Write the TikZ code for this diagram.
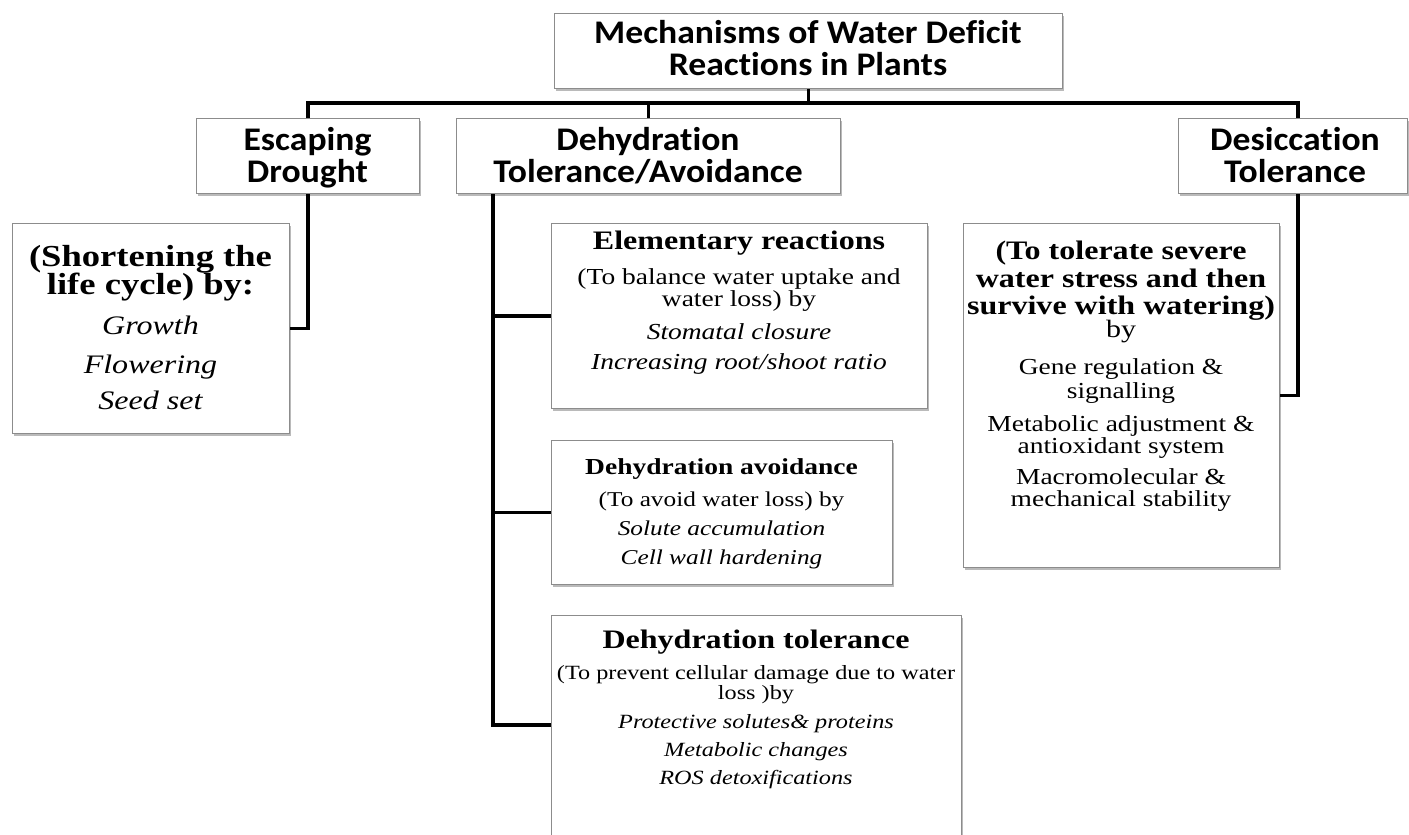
\documentclass[tikz,border=0pt]{standalone}
\usepackage{fontspec}
\setmainfont[FakeStretch=1.2]{Liberation Serif}
\newfontfamily\hdrfont[FakeStretch=1.08,Ligatures=NoCommon]{Carlito}
\usetikzlibrary{shadows}
\begin{document}
\begin{tikzpicture}[x=1pt,y=-1pt,
  box/.style={draw=black!45, line width=1.1pt, fill=white, inner sep=0pt, anchor=north west,
    drop shadow={shadow xshift=1.5pt, shadow yshift=-2.5pt, opacity=0.45, fill=black!60}},
  conn/.style={line width=3.5pt, line join=miter, draw=black},
  txt/.style={anchor=base, inner sep=0pt, text=black},
  H/.style={txt, font=\hdrfont\bfseries\fontsize{33}{34}\selectfont},
  sbold/.style={txt, font=\bfseries\fontsize{30.5}{32}\selectfont},
  sital/.style={txt, font=\itshape\fontsize{26.7}{28}\selectfont},
  bigbold/.style={txt, font=\bfseries\fontsize{26.7}{28}\selectfont},
  midreg/.style={txt, font=\fontsize{22.9}{24}\selectfont},
  midital/.style={txt, font=\itshape\fontsize{22.9}{24}\selectfont},
  midbold/.style={txt, font=\bfseries\fontsize{22.9}{24}\selectfont},
  smreg/.style={txt, font=\fontsize{21.1}{23}\selectfont},
  smital/.style={txt, font=\itshape\fontsize{21.1}{23}\selectfont},
  xsreg/.style={txt, font=\fontsize{20.2}{22}\selectfont},
  xsital/.style={txt, font=\itshape\fontsize{20.2}{22}\selectfont},
  byreg/.style={txt, font=\fontsize{25}{26}\selectfont}]
\useasboundingbox (0,0) rectangle (1409,835);

% boxes
\node[box, minimum width=508pt, minimum height=75pt] (title) at (554,13) {};
\node[box, minimum width=223pt, minimum height=75pt] (esc) at (196,118) {};
\node[box, minimum width=384pt, minimum height=75pt] (deh) at (456,118) {};
\node[box, minimum width=229pt, minimum height=75pt] (des) at (1178,118) {};
\node[box, minimum width=277pt, minimum height=210pt] (short) at (12,223) {};
\node[box, minimum width=376pt, minimum height=185pt] (elem) at (551,223) {};
\node[box, minimum width=341pt, minimum height=144pt] (avoid) at (551,440) {};
\node[box, minimum width=410pt, minimum height=260pt] (toler) at (551,615) {};
\node[box, minimum width=316pt, minimum height=344pt] (dsub) at (963,223) {};

% connector helper coordinates
\coordinate (busR) at (1298,103);
\coordinate (dv) at (493,0);
\coordinate (tb) at (551,725);

% connectors
\draw[conn] (title.south) -- (title.south |- busR);
\draw[conn] (esc.north) |- (busR) -- (des.north -| busR);
\draw[conn] (deh.north) -- (deh.north |- busR);
\draw[conn] (esc.south) |- (short.east);
\draw[conn] (deh.south -| dv) -- (dv |- tb) -- (tb);
\draw[conn] (dv |- elem.west) -- (elem.west);
\draw[conn] (dv |- avoid.west) -- (avoid.west);
\draw[conn] (des.south -| busR) |- (dsub.east);

% header texts
\node[H] (ttl1) at (808,43) {Mechanisms of Water Deficit};
\node[H] (ttl2) at (808,75) {Reactions in Plants};
\node[H] (esc1) at (307.5,150) {Escaping};
\node[H] (esc2) at (307.5,182) {Drought};
\node[H] (deh1) at (648,150) {Dehydration};
\node[H] (deh2) at (648,182) {Tolerance/Avoidance};
\node[H] (des1) at (1295,150) {Desiccation};
\node[H] (des2) at (1295,182) {Tolerance};

% shortening box
\node[sbold] (sh1) at (150.5,266) {(Shortening the};
\node[sbold] (sh2) at (150.5,294) {life cycle) by:};
\node[sital] (sh3) at (150.5,334) {Growth};
\node[sital] (sh4) at (150.5,373) {Flowering};
\node[sital] (sh5) at (150.5,409) {Seed set};

% elementary reactions
\node[bigbold] (el1) at (739,249) {Elementary reactions};
\node[midreg] (el2) at (739,284) {(To balance water uptake and};
\node[midreg] (el3) at (739,306) {water loss) by};
\node[midital] (el4) at (739,339) {Stomatal closure};
\node[midital] (el5) at (739,369) {Increasing root/shoot ratio};

% dehydration avoidance
\node[midbold] (av1) at (721.5,474) {Dehydration avoidance};
\node[smreg] (av2) at (721.5,506) {(To avoid water loss) by};
\node[smital] (av3) at (721.5,535) {Solute accumulation};
\node[smital] (av4) at (721.5,564) {Cell wall hardening};

% dehydration tolerance
\node[bigbold] (to1) at (756,648) {Dehydration tolerance};
\node[xsreg] (to2) at (756,679) {(To prevent cellular damage due to water};
\node[xsreg] (to3) at (756,699) {loss )by};
\node[xsital] (to4) at (756,728) {Protective solutes\& proteins};
\node[xsital] (to5) at (756,756) {Metabolic changes};
\node[xsital] (to6) at (756,784) {ROS detoxifications};

% desiccation sub box
\node[bigbold] (ds1) at (1121,259) {(To tolerate severe};
\node[bigbold] (ds2) at (1121,287) {water stress and then};
\node[bigbold] (ds3) at (1121,314) {survive with watering)};
\node[byreg] (ds4) at (1121,337) {by};
\node[midreg] (ds5) at (1121,374) {Gene regulation \&};
\node[midreg] (ds6) at (1121,398) {signalling};
\node[midreg] (ds7) at (1121,431) {Metabolic adjustment \&};
\node[midreg] (ds8) at (1121,453) {antioxidant system};
\node[midreg] (ds9) at (1121,484) {Macromolecular \&};
\node[midreg] (ds10) at (1121,506) {mechanical stability};
\end{tikzpicture}
\end{document}
